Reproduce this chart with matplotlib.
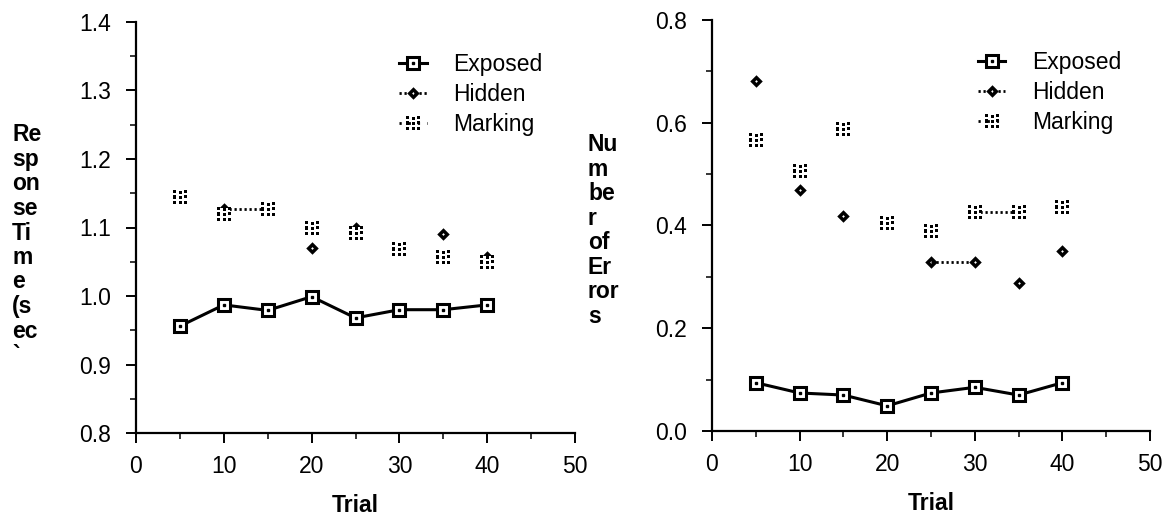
import matplotlib
matplotlib.use('Agg')
import matplotlib.pyplot as plt
from matplotlib.path import Path
from matplotlib.ticker import MultipleLocator, FormatStrFormatter
from matplotlib.legend_handler import HandlerTuple
from matplotlib.lines import Line2D

plt.rcParams['font.family'] = ['Liberation Sans', 'DejaVu Sans']

# ---------------- data ----------------
trials = [5, 10, 15, 20, 25, 30, 35, 40]

rt_exposed = [0.956, 0.987, 0.979, 0.999, 0.968, 0.980, 0.980, 0.987]
rt_hidden = [1.145, 1.127, 1.127, 1.070, 1.099, 1.069, 1.090, 1.057]
rt_marking = [1.145, 1.120, 1.127, 1.100, 1.092, 1.069, 1.057, 1.050]

err_exposed = [0.094, 0.074, 0.070, 0.049, 0.074, 0.085, 0.070, 0.094]
err_hidden = [0.682, 0.470, 0.419, 0.405, 0.328, 0.328, 0.288, 0.351]
err_marking = [0.566, 0.507, 0.587, 0.405, 0.389, 0.426, 0.426, 0.436]

series_names = ['Exposed', 'Hidden', 'Marking']
xlabel_text = 'Trial'
left_ylabel = ['Re', 'sp', 'on', 'se', 'Ti', 'm', 'e', '(s', 'ec', '`']
right_ylabel = ['Nu', 'm', 'be', 'r', 'of', 'Er', 'ror', 's']

# ---------------- custom markers ----------------
def dots_marker():
    verts, codes = [], []
    d = 0.28
    centers = [(-0.9, 1), (0.15, 0.85), (0.9, 1),
               (-0.9, 0), (0.15, -0.1), (0.9, 0.05),
               (-0.9, -1), (0.15, -1), (0.9, -1)]
    for cx, cy in centers:
        sq = [(cx - d, cy - d), (cx + d, cy - d), (cx + d, cy + d),
              (cx - d, cy + d), (cx - d, cy - d)]
        verts += sq
        codes += [Path.MOVETO, Path.LINETO, Path.LINETO, Path.LINETO, Path.CLOSEPOLY]
    return Path(verts, codes)


def diamond_marker():
    outer = [(0, 1), (-1, 0), (0, -1), (1, 0), (0, 1)]
    r = 0.22
    inner = [(0, r), (r, 0), (0, -r), (-r, 0), (0, r)]
    verts = outer + inner
    codes = [Path.MOVETO, Path.LINETO, Path.LINETO, Path.LINETO, Path.CLOSEPOLY] * 2
    return Path(verts, codes)


MARK = dots_marker()
DIAM = diamond_marker()

W, H = 1174, 517
fig = plt.figure(figsize=(W / 100, H / 100), dpi=100)

FS = 16.5
DOT = (0, (0.8, 1.0))


def style_axis(ax, ymin, ymax, major, minor, fmt):
    ax.set_xlim(0, 50)
    ax.set_ylim(ymin, ymax)
    for s in ['top', 'right']:
        ax.spines[s].set_visible(False)
    for s in ['left', 'bottom']:
        ax.spines[s].set_linewidth(1.6)
    ax.xaxis.set_major_locator(MultipleLocator(10))
    ax.xaxis.set_minor_locator(MultipleLocator(5))
    ax.yaxis.set_major_locator(MultipleLocator(major))
    ax.yaxis.set_minor_locator(MultipleLocator(minor))
    ax.yaxis.set_major_formatter(FormatStrFormatter(fmt))
    ax.tick_params(which='major', direction='out', length=7, width=1.4,
                   labelsize=FS)
    ax.tick_params(axis='y', which='major', pad=11)
    ax.tick_params(axis='x', which='major', pad=9)
    ax.tick_params(which='minor', direction='out', length=4, width=1.1)
    ax.set_xlabel(xlabel_text, fontsize=FS, fontweight='bold', labelpad=11)


def draw(ax, x, exp, hid, mar, leg_anchor):
    ax.plot(x, exp, color='black', lw=2.2, marker='s', ms=9, mfc='white',
            mec='black', mew=2.2, zorder=3)
    ax.plot(x, exp, ls='none', marker='s', ms=1.6, color='black', zorder=4)
    # dotted connections (only visible where consecutive values are level)
    for ys in (hid, mar):
        for i in range(len(x) - 1):
            if ys[i] == ys[i + 1]:
                ax.plot(x[i:i + 2], ys[i:i + 2], color='black', lw=2.0,
                        ls=DOT, zorder=2)
    ax.plot(x, hid, ls='none', marker=DIAM, ms=9, color='black', mew=0, zorder=3)
    ax.plot(x, mar, ls='none', marker='s', ms=8, color='white', mew=0, zorder=3.5)
    ax.plot(x, mar, ls='none', marker=MARK, ms=10.5, color='black', mew=0, zorder=4)

    h_exp = (Line2D([], [], color='black', lw=2.2, marker='s', ms=9, mfc='white',
                    mec='black', mew=2.2),
             Line2D([], [], ls='none', marker='s', ms=1.6, color='black'))
    h_hid = Line2D([], [], color='black', lw=2.0, ls=DOT,
                   marker=DIAM, ms=9, mew=0)
    h_mar = Line2D([], [], color='black', lw=2.0, ls=(0, (0.8, 2.5)),
                   marker=MARK, ms=10.5, mew=0)
    ax.legend([h_exp, h_hid, h_mar], series_names,
              handler_map={tuple: HandlerTuple(ndivide=1, pad=0)},
              loc='upper left', bbox_to_anchor=leg_anchor, frameon=False,
              fontsize=FS, handlelength=1.2, handletextpad=1.15,
              labelspacing=0.3, borderpad=0, borderaxespad=0)


# left axes
ax1 = fig.add_axes([136 / W, 1 - 433 / H, (575 - 136) / W, (433 - 22) / H])
style_axis(ax1, 0.8, 1.4, 0.1, 0.05, '%.1f')
draw(ax1, trials, rt_exposed, rt_hidden, rt_marking, (0.60, 0.925))

# right axes
ax2 = fig.add_axes([712 / W, 1 - 431 / H, (1150 - 712) / W, (431 - 20) / H])
style_axis(ax2, 0.0, 0.8, 0.2, 0.1, '%.1f')
draw(ax2, trials, err_exposed, err_hidden, err_marking, (0.607, 0.925))

# wrapped y labels
step = 24.5
for i, t in enumerate(left_ylabel):
    fig.text(12 / W, 1 - (135 + i * step) / H, t, fontsize=FS, fontweight='bold',
             ha='left', va='center')
for i, t in enumerate(right_ylabel):
    fig.text(588 / W, 1 - (145 + i * step) / H, t, fontsize=FS, fontweight='bold',
             ha='left', va='center')

fig.savefig('out.png', dpi=100)
